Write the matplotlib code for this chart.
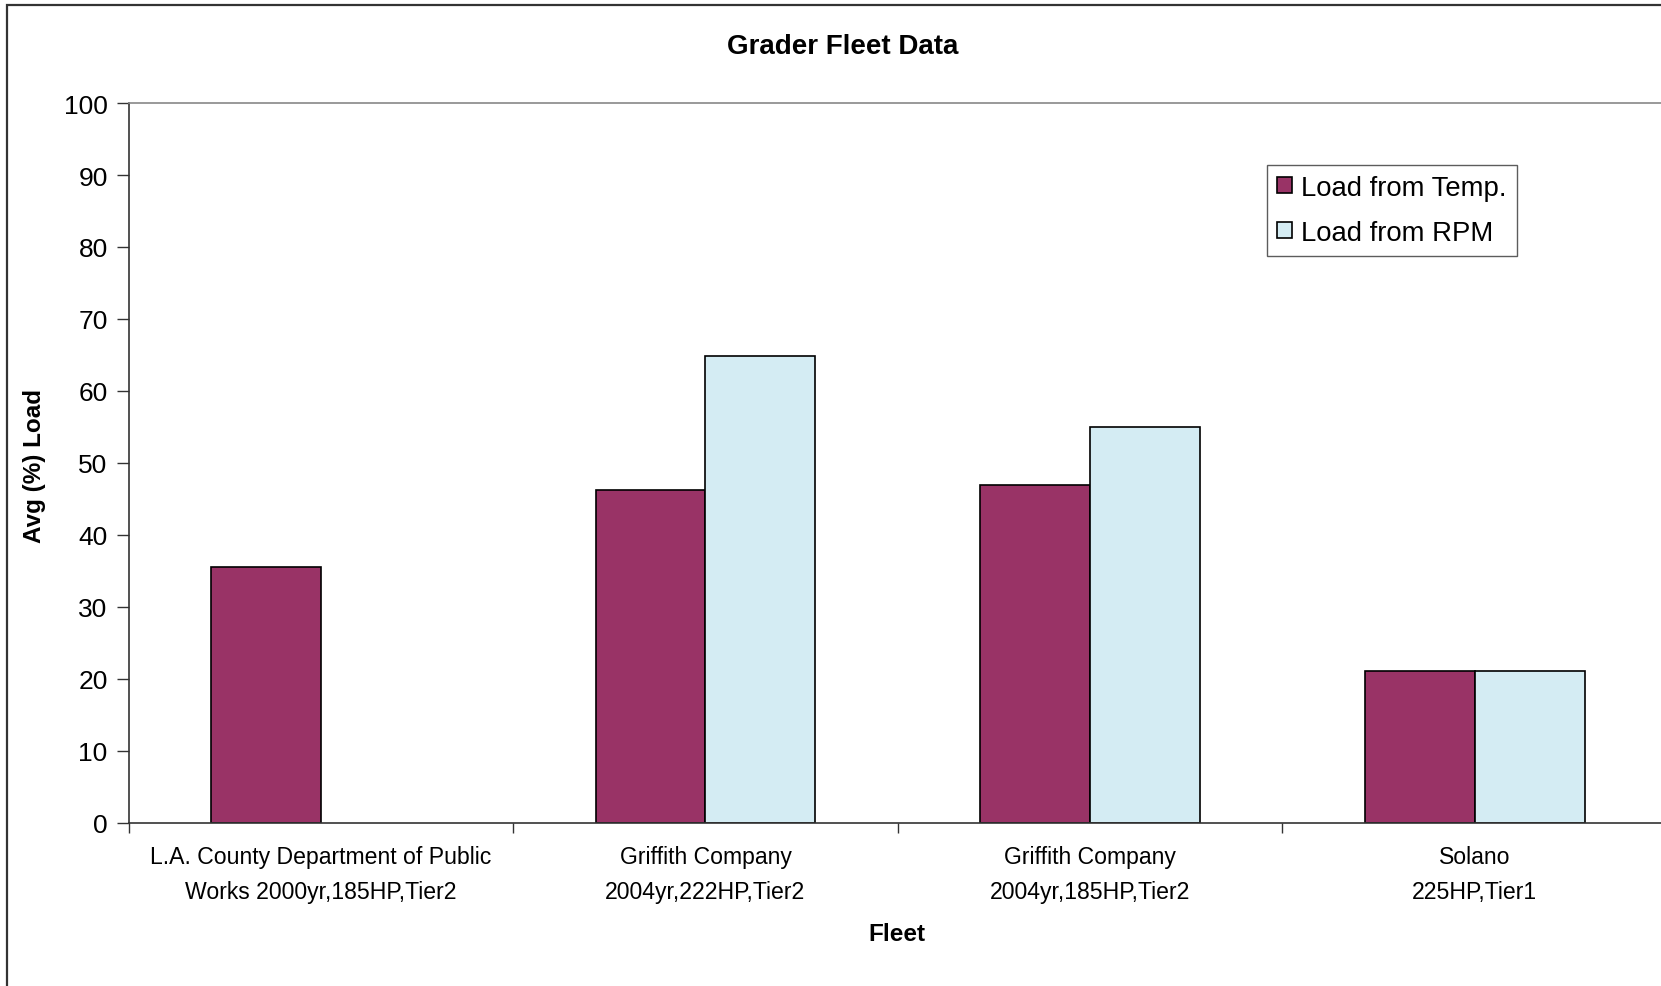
import numpy as np
import matplotlib
matplotlib.use("Agg")
import matplotlib.pyplot as plt
from matplotlib.patches import Rectangle

plt.rcParams['font.family'] = ['Liberation Sans', 'DejaVu Sans']

# Fleet categories and average load values (%)
fleets = [
    "L.A. County Department of Public\nWorks 2000yr,185HP,Tier2",
    "Griffith Company\n2004yr,222HP,Tier2",
    "Griffith Company\n2004yr,185HP,Tier2",
    "Solano\n225HP,Tier1",
]
load_from_temp = [35.6, 46.3, 46.9, 21.1]
load_from_rpm = [np.nan, 64.9, 55.0, 21.1]
y_ticks = [0, 10, 20, 30, 40, 50, 60, 70, 80, 90, 100]

W, H = 1661, 987
fig = plt.figure(figsize=(W / 100, H / 100), dpi=100)
fig.patch.set_facecolor('white')

# Outer chart-area border
fig.patches.append(Rectangle((7 / W, -0.05), 1.1, 1 - 6 / H + 0.05,
                             transform=fig.transFigure, fill=False,
                             edgecolor='#333333', linewidth=1.6, clip_on=False))

left, right, top, bottom = 128.5, 1667, 104, 824
ax = fig.add_axes([left / W, 1 - bottom / H, (right - left) / W, (bottom - top) / H])

x = np.arange(len(fleets))
bw = 1 / 3.5
ax.bar(x - bw / 2, load_from_temp, width=bw, color='#993366', edgecolor='black',
       linewidth=1.2, label='Load from Temp.')
ax.bar(x + bw / 2, load_from_rpm, width=bw, color='#D4ECF3', edgecolor='black',
       linewidth=1.2, label='Load from RPM')

ax.set_xlim(-0.5, len(fleets) - 0.5)
ax.set_ylim(0, 100)
ax.set_yticks(y_ticks)
ax.tick_params(axis='y', direction='out', length=9, width=1, color='#333333',
               labelsize=19, pad=6)

# Tick marks between categories, labels at category centres
ax.set_xticks(np.arange(len(fleets) + 1) - 0.5)
ax.set_xticklabels([])
ax.set_xticks(x, minor=True)
ax.set_xticklabels(fleets, minor=True, fontsize=16.6, linespacing=1.65)
ax.tick_params(axis='x', which='major', direction='out', length=7, width=1, color='#333333')
ax.tick_params(axis='x', which='minor', length=0, pad=16)

ax.spines['left'].set_color('#333333')
ax.spines['bottom'].set_color('#333333')
ax.spines['top'].set_color('#888888')
ax.spines['right'].set_color('#888888')
for s in ax.spines.values():
    s.set_linewidth(1.2)

fig.text(843 / W, 1 - 47 / H, 'Grader Fleet Data', ha='center', va='center',
         fontsize=20, fontweight='bold')
fig.text(35 / W, 1 - 466 / H, 'Avg (%) Load', ha='center', va='center',
         rotation=90, fontsize=17.5, fontweight='bold')
fig.text(897 / W, 1 - 935 / H, 'Fleet', ha='center', va='center',
         fontsize=17.5, fontweight='bold')

leg = ax.legend(loc='upper left', bbox_to_anchor=(1267 / W, 1 - 166 / H),
                bbox_transform=fig.transFigure, fontsize=19.8, frameon=True,
                fancybox=False, borderaxespad=0, handlelength=0.55, handleheight=0.55,
                handletextpad=0.35, borderpad=0.35, labelspacing=0.7)
leg.get_frame().set_edgecolor('#333333')
leg.get_frame().set_linewidth(1.0)

fig.savefig('out.png', dpi=100)
